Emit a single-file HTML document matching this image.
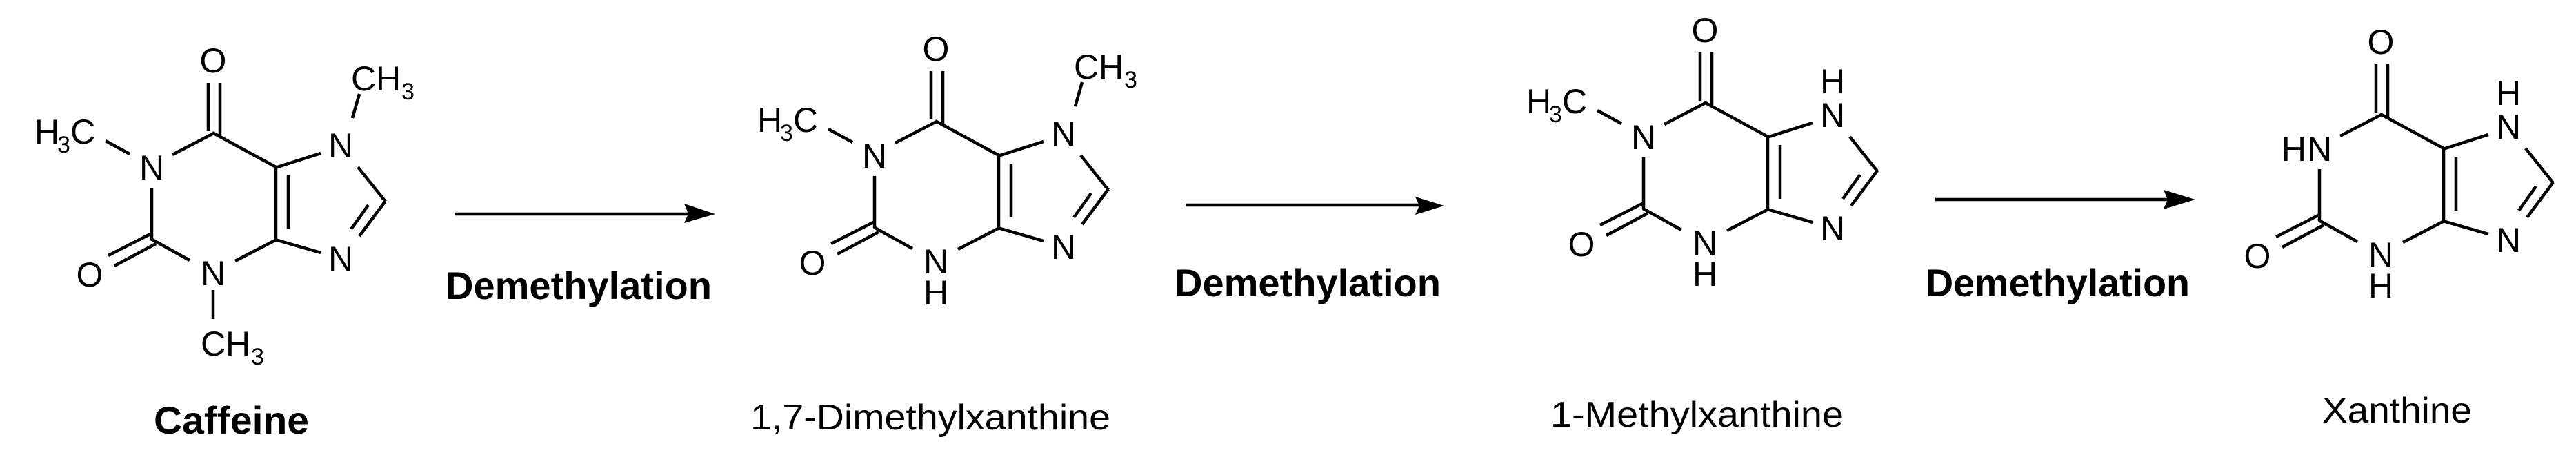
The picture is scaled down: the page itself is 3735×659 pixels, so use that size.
<!DOCTYPE html>
<html><head><meta charset="utf-8"><style>
html,body{margin:0;padding:0;background:#fff;}
svg{display:block;}
text{font-family:"Liberation Sans",Arial,sans-serif;fill:#000;}
</style></head><body>
<svg width="3735" height="659" viewBox="0 0 3735 659" xmlns="http://www.w3.org/2000/svg">
<defs>
<g id="core" stroke="#000" stroke-width="4.5" fill="none" stroke-linecap="butt">
  <line x1="302" y1="120" x2="302" y2="190"/>
  <line x1="319" y1="120" x2="319" y2="196"/>
  <line x1="310" y1="193" x2="250" y2="224"/>
  <line x1="220" y1="272" x2="220" y2="347"/>
  <line x1="157" y1="370" x2="220" y2="338"/>
  <line x1="166" y1="385" x2="226" y2="353"/>
  <line x1="219" y1="346" x2="275" y2="377"/>
  <line x1="341" y1="378" x2="401" y2="347"/>
  <line x1="400" y1="349" x2="400" y2="240"/>
  <line x1="418" y1="254" x2="418" y2="332"/>
  <line x1="402" y1="243" x2="308" y2="192"/>
  <line x1="399" y1="243" x2="465" y2="222"/>
  <line x1="519" y1="242" x2="559" y2="292"/>
  <line x1="559" y1="291" x2="521" y2="342"/>
  <line x1="534" y1="297" x2="509" y2="332"/>
  <line x1="399" y1="347" x2="465" y2="366"/>
</g>
<g id="atoms" font-size="50" text-anchor="middle" stroke="none">
  <text x="309" y="105">O</text>
  <text x="220" y="260">N</text>
  <text x="130" y="415">O</text>
  <text x="309" y="413">N</text>
  <text x="494" y="228">N</text>
  <text x="494" y="392">N</text>
</g>
<g id="me1">
  <line x1="153" y1="204" x2="188" y2="223" stroke="#000" stroke-width="4.5"/>
  <text x="50" y="208" font-size="50">H</text>
  <text x="83" y="221" font-size="34">3</text>
  <text x="102" y="208" font-size="50">C</text>
</g>
<g id="me3">
  <line x1="309" y1="420" x2="309" y2="462" stroke="#000" stroke-width="4.5"/>
  <text x="291" y="515" font-size="50">C</text>
  <text x="327" y="515" font-size="50">H</text>
  <text x="364" y="528" font-size="34">3</text>
</g>
<g id="me7">
  <line x1="511" y1="171" x2="521" y2="136" stroke="#000" stroke-width="4.5"/>
  <text x="509" y="131" font-size="50">C</text>
  <text x="545" y="131" font-size="50">H</text>
  <text x="582" y="144" font-size="34">3</text>
</g>
<g id="h3"><text x="309" y="458" font-size="50" text-anchor="middle">H</text></g>
<g id="h7"><text x="494" y="179" font-size="50" text-anchor="middle">H</text></g>
</defs>

<g>
  <use href="#core"/><use href="#atoms"/><use href="#me1"/><use href="#me3"/><use href="#me7"/>
</g>
<g transform="translate(1048,-17)">
  <use href="#core"/><use href="#atoms"/><use href="#me1"/><use href="#h3"/><use href="#me7"/>
</g>
<g transform="translate(2163,-44)">
  <use href="#core"/><use href="#atoms"/><use href="#me1"/><use href="#h3"/><use href="#h7"/>
</g>
<g transform="translate(3143,-27)">
  <use href="#core"/><use href="#atoms"/><use href="#h3"/><use href="#h7"/>
  <text x="201" y="260" font-size="50" text-anchor="end">H</text>
</g>

<g fill="#000" stroke="#000">
  <line x1="660" y1="310" x2="1000" y2="310" stroke-width="4.5"/>
  <polygon points="992,295 1037,310 992,323 998,310" stroke="none"/>
  <line x1="1719" y1="297" x2="2058" y2="297" stroke-width="4.5"/>
  <polygon points="2052,285 2094,298 2052,311 2058,298" stroke="none"/>
  <line x1="2806" y1="289" x2="3145" y2="289" stroke-width="4.5"/>
  <polygon points="3137,275 3183,289 3137,303 3143,289" stroke="none"/>
</g>

<g font-weight="bold" font-size="56">
  <text x="646" y="433" textLength="386" lengthAdjust="spacingAndGlyphs">Demethylation</text>
  <text x="1703" y="429" textLength="386" lengthAdjust="spacingAndGlyphs">Demethylation</text>
  <text x="2792" y="429" textLength="383" lengthAdjust="spacingAndGlyphs">Demethylation</text>
  <text x="223" y="628" textLength="225" lengthAdjust="spacingAndGlyphs">Caffeine</text>
</g>
<g font-size="52">
  <text x="1088" y="622" textLength="522" lengthAdjust="spacingAndGlyphs">1,7-Dimethylxanthine</text>
  <text x="2248" y="618" textLength="425" lengthAdjust="spacingAndGlyphs">1-Methylxanthine</text>
  <text x="3367" y="612" textLength="217" lengthAdjust="spacingAndGlyphs">Xanthine</text>
</g>
</svg>
</body></html>
